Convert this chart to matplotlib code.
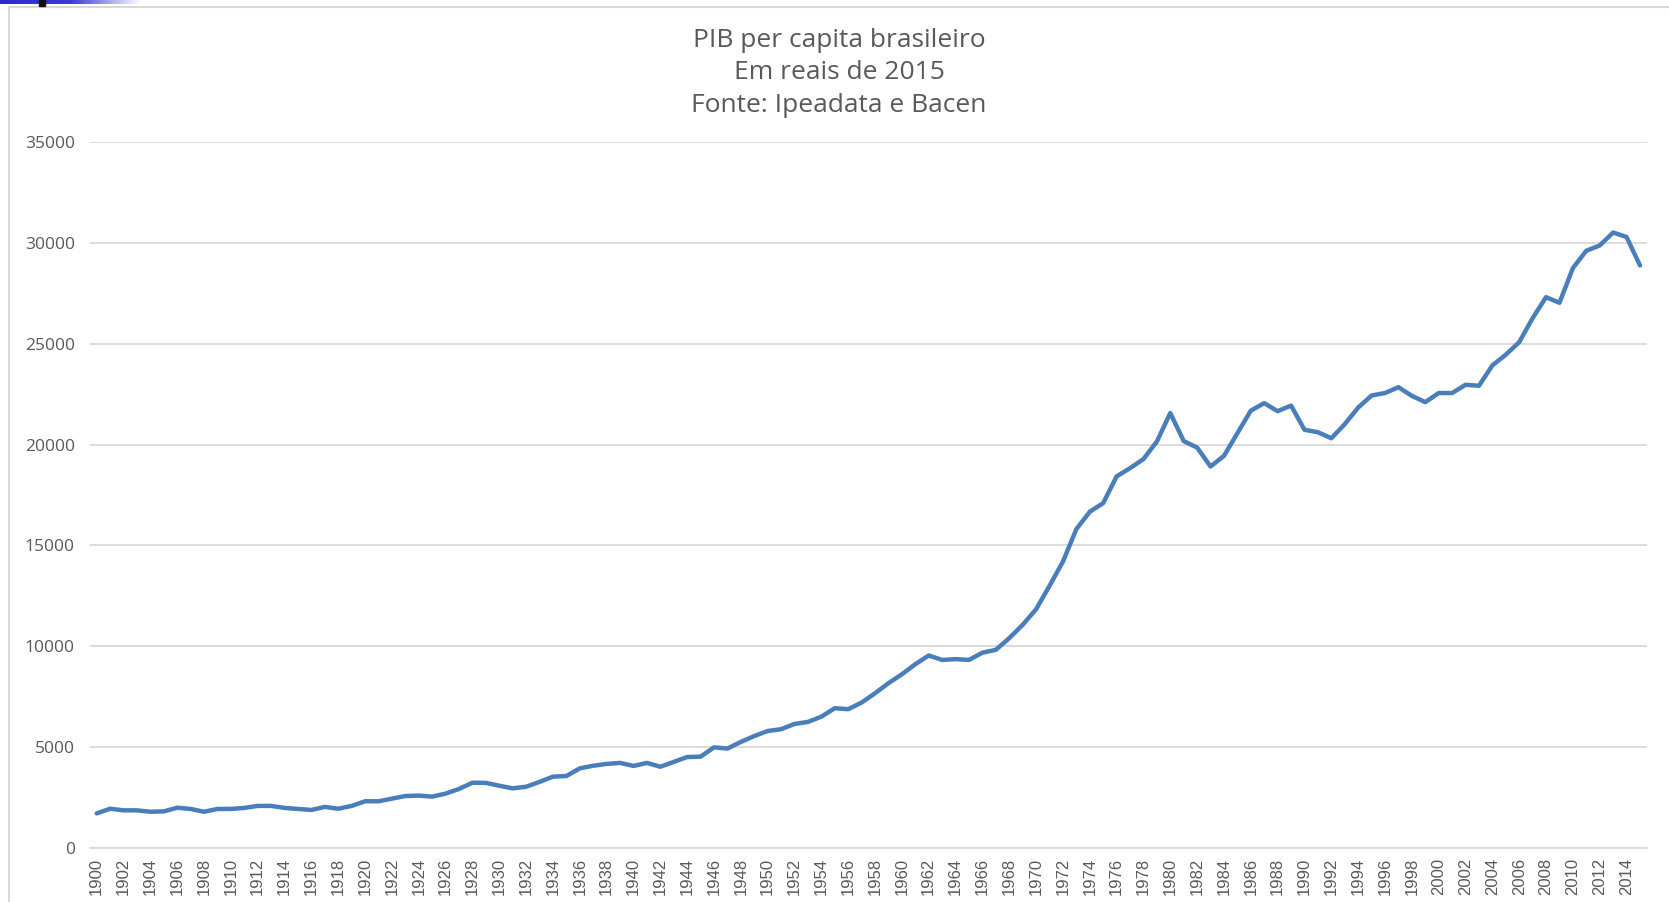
import numpy as np
import matplotlib
matplotlib.use("Agg")
import matplotlib.pyplot as plt
from matplotlib.patches import Rectangle

# PIB per capita (R$ de 2015)
years = list(range(1900, 2016))
pib = [
    1730, 1960, 1880, 1880, 1810, 1830, 2010, 1950, 1810, 1950,   # 1900-1909
    1950, 2000, 2100, 2100, 2000, 1950, 1900, 2050, 1960, 2100,   # 1910-1919
    2330, 2330, 2460, 2590, 2610, 2560, 2710, 2940, 3250, 3240,   # 1920-1929
    3100, 2970, 3050, 3290, 3550, 3580, 3960, 4090, 4180, 4230,   # 1930-1939
    4080, 4230, 4040, 4280, 4520, 4540, 5000, 4940, 5270, 5560,   # 1940-1949
    5810, 5900, 6160, 6260, 6520, 6940, 6890, 7220, 7680, 8180,   # 1950-1959
    8620, 9120, 9550, 9330, 9370, 9330, 9690, 9830, 10410, 11070, # 1960-1969
    11840, 13000, 14200, 15810, 16670, 17100, 18420, 18830, 19280, 20150,  # 1970-1979
    21560, 20170, 19850, 18910, 19440, 20560, 21680, 22050, 21650, 21930,  # 1980-1989
    20730, 20610, 20310, 21010, 21830, 22430, 22550, 22840, 22410, 22100,  # 1990-1999
    22550, 22550, 22960, 22910, 23920, 24450, 25070, 26260, 27300, 27020,  # 2000-2009
    28740, 29600, 29860, 30500, 30280, 28870,                              # 2010-2015
]
title_lines = ["PIB per capita brasileiro", "Em reais de 2015", "Fonte: Ipeadata e Bacen"]
y_ticks = [0, 5000, 10000, 15000, 20000, 25000, 30000, 35000]

W, H = 1669, 902
fig = plt.figure(figsize=(W / 100, H / 100), dpi=100)
text_grey = "#595959"

# outer chart border (left/top visible)
fig.patches.append(Rectangle((9 / W, -0.1), 1.2, (H - 7) / H + 0.1, transform=fig.transFigure,
                             fill=False, edgecolor="#d9d9d9", linewidth=1.5))

# little screenshot artifact at the top-left corner
grad_ax = fig.add_axes([0, (H - 4) / H, 140 / W, 4 / H])
grad = np.linspace(0, 1, 256).reshape(1, -1)
grad_ax.imshow(grad, aspect="auto", cmap=matplotlib.colors.LinearSegmentedColormap.from_list(
    "g", ["#2a2ad0", "#3a3ad8", "#ffffff"]), extent=(0, 1, 0, 1))
grad_ax.axis("off")
fig.patches.append(Rectangle((39 / W, (H - 6) / H), 6 / W, 6 / H, transform=fig.transFigure,
                             color="#111111"))

x_idx = np.arange(len(years))
ax = fig.add_axes([90 / W, (H - 848.3) / H, (1646.7 - 90) / W, (848.3 - 141.7) / H])
ax.plot(x_idx, pib, color="#4a7ebb", linewidth=3.2, solid_joinstyle="round", solid_capstyle="round")

ax.set_xlim(-0.5, len(years) - 0.5)
ax.set_ylim(0, 35000)
ax.set_yticks(y_ticks)
ax.set_yticklabels([str(v) for v in y_ticks], fontfamily="Open Sans", fontsize=12.5, color=text_grey)
ax.set_xticks(x_idx[::2])
ax.set_xticklabels([str(y) for y in years[::2]], rotation=90, fontfamily="Liberation Sans",
                   fontsize=12, color=text_grey)
ax.tick_params(axis="both", length=0)
ax.tick_params(axis="y", pad=11)
ax.tick_params(axis="x", pad=7)
ax.grid(axis="y", color="#d9d9d9", linewidth=1.3)
ax.set_axisbelow(True)
for side in ["top", "right", "left"]:
    ax.spines[side].set_visible(False)
ax.spines["bottom"].set_color("#d9d9d9")
ax.spines["bottom"].set_linewidth(1.3)

for i, (line, yc) in enumerate(zip(title_lines, [40.5, 72.5, 105.5])):
    fig.text(839 / W, 1 - yc / H, line, ha="center", va="center", fontfamily="Open Sans",
             fontsize=19, color=text_grey)

fig.savefig("out.png", dpi=100)
